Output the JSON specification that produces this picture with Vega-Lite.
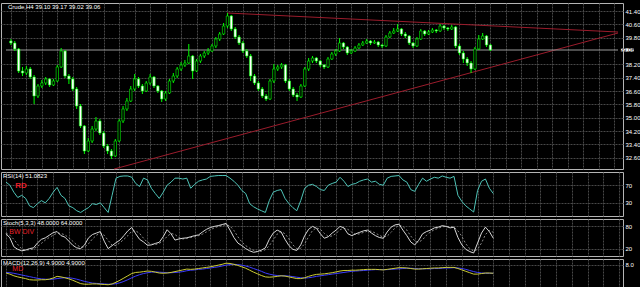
{
"$schema":"https://vega.github.io/schema/vega-lite/v6.json",
"background":"#000000",
"padding":{"top":2,"left":0,"right":0,"bottom":0},
"bounds":"flush",
"spacing":3,
"datasets":{"c":[
{"i":0,"o":39.60,"h":39.72,"l":39.36,"c":39.48,"r":77,"k":60,"d":62,"m":5.0,"s":5.2},
{"i":1,"o":39.48,"h":39.60,"l":39.00,"c":39.12,"r":70,"k":49,"d":56,"m":4.6,"s":5.1},
{"i":2,"o":39.12,"h":39.18,"l":37.68,"c":37.80,"r":54,"k":25,"d":45,"m":4.0,"s":4.9},
{"i":3,"o":37.80,"h":38.04,"l":37.50,"c":37.68,"r":42,"k":18,"d":31,"m":3.6,"s":4.6},
{"i":4,"o":37.68,"h":38.10,"l":37.56,"c":37.92,"r":47,"k":14,"d":19,"m":3.3,"s":4.3},
{"i":5,"o":37.92,"h":38.04,"l":37.32,"c":37.44,"r":40,"k":16,"d":16,"m":3.0,"s":4.0},
{"i":6,"o":37.44,"h":37.56,"l":35.82,"c":36.30,"r":23,"k":20,"d":17,"m":2.6,"s":3.7},
{"i":7,"o":36.30,"h":37.02,"l":36.18,"c":36.90,"r":19,"k":22,"d":19,"m":2.5,"s":3.4},
{"i":8,"o":36.90,"h":37.26,"l":36.78,"c":37.08,"r":28,"k":35,"d":26,"m":2.5,"s":3.1},
{"i":9,"o":37.08,"h":37.44,"l":36.96,"c":37.32,"r":35,"k":45,"d":34,"m":2.6,"s":2.9},
{"i":10,"o":37.32,"h":37.38,"l":36.84,"c":36.96,"r":30,"k":49,"d":43,"m":2.6,"s":2.8},
{"i":11,"o":36.96,"h":37.32,"l":36.90,"c":37.20,"r":40,"k":56,"d":50,"m":2.8,"s":2.7},
{"i":12,"o":37.20,"h":38.16,"l":37.14,"c":38.04,"r":54,"k":63,"d":56,"m":3.2,"s":2.8},
{"i":13,"o":38.04,"h":39.18,"l":37.98,"c":39.00,"r":65,"k":66,"d":62,"m":3.8,"s":3.0},
{"i":14,"o":39.00,"h":39.06,"l":37.38,"c":37.50,"r":47,"k":55,"d":61,"m":3.6,"s":3.2},
{"i":15,"o":37.50,"h":37.62,"l":37.02,"c":37.32,"r":40,"k":51,"d":57,"m":3.3,"s":3.3},
{"i":16,"o":37.32,"h":37.44,"l":36.60,"c":36.72,"r":23,"k":40,"d":49,"m":2.9,"s":3.3},
{"i":17,"o":36.72,"h":36.84,"l":35.52,"c":35.70,"r":19,"k":29,"d":40,"m":2.4,"s":3.1},
{"i":18,"o":35.70,"h":35.82,"l":34.38,"c":34.50,"r":12,"k":22,"d":30,"m":1.8,"s":2.8},
{"i":19,"o":34.50,"h":34.56,"l":32.82,"c":33.00,"r":8,"k":20,"d":24,"m":1.2,"s":2.4},
{"i":20,"o":33.00,"h":33.78,"l":32.94,"c":33.60,"r":14,"k":30,"d":24,"m":1.0,"s":2.0},
{"i":21,"o":33.60,"h":34.50,"l":33.48,"c":34.32,"r":19,"k":49,"d":33,"m":1.0,"s":1.7},
{"i":22,"o":34.32,"h":35.04,"l":34.20,"c":34.80,"r":28,"k":58,"d":46,"m":1.1,"s":1.4},
{"i":23,"o":34.80,"h":34.92,"l":33.96,"c":34.08,"r":26,"k":62,"d":56,"m":1.1,"s":1.3},
{"i":24,"o":34.08,"h":34.20,"l":33.18,"c":33.30,"r":30,"k":66,"d":62,"m":1.0,"s":1.2},
{"i":25,"o":33.30,"h":33.42,"l":32.82,"c":33.00,"r":19,"k":40,"d":56,"m":0.9,"s":1.1},
{"i":26,"o":33.00,"h":33.12,"l":32.52,"c":32.70,"r":8,"k":20,"d":42,"m":0.8,"s":1.0},
{"i":27,"o":32.70,"h":33.72,"l":32.64,"c":33.60,"r":47,"k":28,"d":29,"m":1.1,"s":1.0},
{"i":28,"o":33.60,"h":34.92,"l":33.54,"c":34.80,"r":86,"k":36,"d":28,"m":1.7,"s":1.2},
{"i":29,"o":34.80,"h":35.70,"l":34.68,"c":35.52,"r":90,"k":43,"d":36,"m":2.4,"s":1.5},
{"i":30,"o":35.52,"h":36.18,"l":35.40,"c":36.00,"r":91,"k":55,"d":45,"m":3.2,"s":2.0},
{"i":31,"o":36.00,"h":36.90,"l":35.94,"c":36.72,"r":91,"k":68,"d":55,"m":4.0,"s":2.6},
{"i":32,"o":36.72,"h":37.62,"l":36.60,"c":37.32,"r":88,"k":77,"d":67,"m":4.8,"s":3.3},
{"i":33,"o":37.32,"h":37.44,"l":36.78,"c":36.90,"r":74,"k":60,"d":68,"m":5.2,"s":3.9},
{"i":34,"o":36.90,"h":37.02,"l":36.42,"c":36.60,"r":67,"k":45,"d":61,"m":5.3,"s":4.4},
{"i":35,"o":36.60,"h":37.20,"l":36.54,"c":37.08,"r":86,"k":38,"d":48,"m":5.5,"s":4.8},
{"i":36,"o":37.08,"h":37.62,"l":36.96,"c":37.44,"r":82,"k":29,"d":37,"m":5.7,"s":5.1},
{"i":37,"o":37.44,"h":37.50,"l":36.78,"c":36.90,"r":63,"k":30,"d":32,"m":5.6,"s":5.3},
{"i":38,"o":36.90,"h":36.96,"l":36.48,"c":36.60,"r":51,"k":34,"d":31,"m":5.3,"s":5.4},
{"i":39,"o":36.60,"h":36.66,"l":35.94,"c":36.12,"r":40,"k":37,"d":34,"m":5.0,"s":5.3},
{"i":40,"o":36.12,"h":36.60,"l":36.00,"c":36.48,"r":54,"k":52,"d":41,"m":4.9,"s":5.2},
{"i":41,"o":36.48,"h":37.32,"l":36.42,"c":37.20,"r":70,"k":71,"d":53,"m":5.0,"s":5.1},
{"i":42,"o":37.20,"h":37.68,"l":37.08,"c":37.50,"r":77,"k":60,"d":61,"m":5.2,"s":5.1},
{"i":43,"o":37.50,"h":38.04,"l":37.38,"c":37.92,"r":86,"k":43,"d":58,"m":5.5,"s":5.2},
{"i":44,"o":37.92,"h":38.34,"l":37.80,"c":38.16,"r":86,"k":46,"d":50,"m":5.8,"s":5.3},
{"i":45,"o":38.16,"h":38.46,"l":38.04,"c":38.28,"r":84,"k":48,"d":46,"m":6.1,"s":5.5},
{"i":46,"o":38.28,"h":39.42,"l":38.22,"c":38.70,"r":86,"k":49,"d":48,"m":6.4,"s":5.8},
{"i":47,"o":38.70,"h":38.76,"l":37.32,"c":37.80,"r":63,"k":52,"d":50,"m":6.3,"s":6.0},
{"i":48,"o":37.80,"h":38.52,"l":37.74,"c":38.40,"r":72,"k":55,"d":52,"m":6.4,"s":6.1},
{"i":49,"o":38.40,"h":38.82,"l":38.28,"c":38.70,"r":79,"k":57,"d":55,"m":6.6,"s":6.3},
{"i":50,"o":38.70,"h":39.00,"l":38.58,"c":38.88,"r":82,"k":65,"d":59,"m":6.8,"s":6.4},
{"i":51,"o":38.88,"h":39.18,"l":38.76,"c":39.00,"r":84,"k":72,"d":65,"m":7.0,"s":6.6},
{"i":52,"o":39.00,"h":39.42,"l":38.94,"c":39.30,"r":90,"k":77,"d":71,"m":7.2,"s":6.8},
{"i":53,"o":39.30,"h":39.84,"l":39.18,"c":39.72,"r":91,"k":80,"d":76,"m":7.5,"s":7.0},
{"i":54,"o":39.72,"h":40.14,"l":39.60,"c":40.02,"r":92,"k":82,"d":80,"m":7.8,"s":7.2},
{"i":55,"o":40.02,"h":40.68,"l":39.96,"c":40.50,"r":92,"k":85,"d":82,"m":8.1,"s":7.5},
{"i":56,"o":40.50,"h":41.28,"l":40.38,"c":41.10,"r":92,"k":88,"d":85,"m":8.5,"s":7.8},
{"i":57,"o":41.10,"h":41.16,"l":40.20,"c":40.32,"r":86,"k":70,"d":81,"m":8.4,"s":8.0},
{"i":58,"o":40.32,"h":40.44,"l":39.72,"c":39.84,"r":79,"k":50,"d":69,"m":8.1,"s":8.1},
{"i":59,"o":39.84,"h":39.96,"l":39.36,"c":39.48,"r":70,"k":35,"d":52,"m":7.7,"s":8.0},
{"i":60,"o":39.48,"h":39.60,"l":38.88,"c":39.00,"r":58,"k":28,"d":38,"m":7.2,"s":7.8},
{"i":61,"o":39.00,"h":39.12,"l":38.58,"c":38.70,"r":51,"k":20,"d":28,"m":6.7,"s":7.5},
{"i":62,"o":38.70,"h":38.82,"l":37.20,"c":37.50,"r":28,"k":14,"d":21,"m":6.0,"s":7.1},
{"i":63,"o":37.50,"h":37.62,"l":36.96,"c":37.08,"r":21,"k":10,"d":15,"m":5.3,"s":6.6},
{"i":64,"o":37.08,"h":37.20,"l":36.60,"c":36.72,"r":16,"k":12,"d":12,"m":4.7,"s":6.1},
{"i":65,"o":36.72,"h":36.84,"l":36.18,"c":36.30,"r":12,"k":16,"d":13,"m":4.1,"s":5.6},
{"i":66,"o":36.30,"h":36.42,"l":36.00,"c":36.12,"r":8,"k":22,"d":17,"m":3.6,"s":5.0},
{"i":67,"o":36.12,"h":37.32,"l":36.06,"c":37.20,"r":35,"k":45,"d":28,"m":3.5,"s":4.6},
{"i":68,"o":37.20,"h":38.22,"l":37.08,"c":37.92,"r":54,"k":62,"d":43,"m":3.6,"s":4.3},
{"i":69,"o":37.92,"h":38.16,"l":37.80,"c":38.04,"r":58,"k":70,"d":59,"m":3.8,"s":4.1},
{"i":70,"o":38.04,"h":38.28,"l":37.92,"c":38.16,"r":60,"k":65,"d":66,"m":4.0,"s":4.0},
{"i":71,"o":38.16,"h":38.22,"l":37.08,"c":37.20,"r":40,"k":45,"d":60,"m":3.9,"s":4.0},
{"i":72,"o":37.20,"h":37.32,"l":36.60,"c":36.72,"r":28,"k":28,"d":46,"m":3.6,"s":3.9},
{"i":73,"o":36.72,"h":36.84,"l":36.24,"c":36.36,"r":19,"k":18,"d":30,"m":3.3,"s":3.7},
{"i":74,"o":36.36,"h":36.48,"l":36.00,"c":36.24,"r":12,"k":15,"d":20,"m":3.0,"s":3.5},
{"i":75,"o":36.24,"h":37.02,"l":36.18,"c":36.90,"r":35,"k":30,"d":21,"m":3.0,"s":3.3},
{"i":76,"o":36.90,"h":38.04,"l":36.84,"c":37.92,"r":63,"k":55,"d":33,"m":3.3,"s":3.2},
{"i":77,"o":37.92,"h":38.58,"l":37.80,"c":38.40,"r":70,"k":72,"d":52,"m":3.8,"s":3.3},
{"i":78,"o":38.40,"h":38.70,"l":38.28,"c":38.58,"r":72,"k":80,"d":69,"m":4.2,"s":3.5},
{"i":79,"o":38.58,"h":38.64,"l":38.28,"c":38.40,"r":67,"k":75,"d":76,"m":4.5,"s":3.8},
{"i":80,"o":38.40,"h":38.46,"l":38.04,"c":38.16,"r":60,"k":60,"d":72,"m":4.6,"s":4.0},
{"i":81,"o":38.16,"h":38.22,"l":37.92,"c":38.04,"r":58,"k":48,"d":61,"m":4.7,"s":4.2},
{"i":82,"o":38.04,"h":38.64,"l":37.98,"c":38.52,"r":70,"k":52,"d":53,"m":4.9,"s":4.4},
{"i":83,"o":38.52,"h":38.94,"l":38.46,"c":38.82,"r":74,"k":62,"d":54,"m":5.1,"s":4.6},
{"i":84,"o":38.82,"h":39.12,"l":38.70,"c":39.00,"r":77,"k":70,"d":61,"m":5.4,"s":4.8},
{"i":85,"o":39.00,"h":39.78,"l":38.94,"c":39.48,"r":88,"k":80,"d":71,"m":5.7,"s":5.0},
{"i":86,"o":39.48,"h":39.54,"l":39.12,"c":39.24,"r":79,"k":76,"d":75,"m":5.9,"s":5.2},
{"i":87,"o":39.24,"h":39.30,"l":38.76,"c":38.88,"r":67,"k":60,"d":72,"m":5.9,"s":5.4},
{"i":88,"o":38.88,"h":39.12,"l":38.82,"c":39.00,"r":72,"k":55,"d":64,"m":6.0,"s":5.6},
{"i":89,"o":39.00,"h":39.30,"l":38.94,"c":39.18,"r":74,"k":60,"d":58,"m":6.0,"s":5.7},
{"i":90,"o":39.18,"h":39.48,"l":39.12,"c":39.36,"r":79,"k":64,"d":60,"m":6.1,"s":5.8},
{"i":91,"o":39.36,"h":39.60,"l":39.30,"c":39.48,"r":82,"k":68,"d":64,"m":6.2,"s":5.9},
{"i":92,"o":39.48,"h":39.72,"l":39.42,"c":39.60,"r":84,"k":70,"d":67,"m":6.3,"s":6.0},
{"i":93,"o":39.60,"h":39.66,"l":39.36,"c":39.48,"r":77,"k":62,"d":67,"m":6.3,"s":6.1},
{"i":94,"o":39.48,"h":39.66,"l":39.42,"c":39.54,"r":79,"k":55,"d":62,"m":6.3,"s":6.2},
{"i":95,"o":39.54,"h":39.60,"l":39.24,"c":39.36,"r":72,"k":50,"d":56,"m":6.2,"s":6.2},
{"i":96,"o":39.36,"h":39.42,"l":39.18,"c":39.30,"r":70,"k":48,"d":51,"m":6.1,"s":6.2},
{"i":97,"o":39.30,"h":39.96,"l":39.24,"c":39.84,"r":86,"k":65,"d":54,"m":6.3,"s":6.2},
{"i":98,"o":39.84,"h":40.20,"l":39.78,"c":40.08,"r":90,"k":78,"d":64,"m":6.5,"s":6.3},
{"i":99,"o":40.08,"h":40.38,"l":40.02,"c":40.20,"r":91,"k":84,"d":76,"m":6.7,"s":6.4},
{"i":100,"o":40.20,"h":40.62,"l":40.14,"c":40.32,"r":92,"k":86,"d":83,"m":6.9,"s":6.5},
{"i":101,"o":40.32,"h":40.38,"l":39.90,"c":40.02,"r":82,"k":70,"d":80,"m":6.9,"s":6.6},
{"i":102,"o":40.02,"h":40.14,"l":39.78,"c":39.90,"r":77,"k":55,"d":70,"m":6.8,"s":6.7},
{"i":103,"o":39.90,"h":39.96,"l":39.36,"c":39.48,"r":60,"k":38,"d":54,"m":6.6,"s":6.7},
{"i":104,"o":39.48,"h":39.54,"l":39.18,"c":39.30,"r":56,"k":30,"d":41,"m":6.4,"s":6.6},
{"i":105,"o":39.30,"h":39.84,"l":39.24,"c":39.72,"r":72,"k":42,"d":37,"m":6.4,"s":6.5},
{"i":106,"o":39.72,"h":40.32,"l":39.66,"c":40.20,"r":86,"k":60,"d":44,"m":6.5,"s":6.5},
{"i":107,"o":40.20,"h":40.26,"l":39.90,"c":40.02,"r":79,"k":66,"d":56,"m":6.6,"s":6.5},
{"i":108,"o":40.02,"h":40.26,"l":39.96,"c":40.14,"r":84,"k":70,"d":65,"m":6.7,"s":6.5},
{"i":109,"o":40.14,"h":40.38,"l":40.08,"c":40.26,"r":88,"k":76,"d":71,"m":6.8,"s":6.6},
{"i":110,"o":40.26,"h":40.32,"l":40.08,"c":40.20,"r":86,"k":78,"d":75,"m":6.8,"s":6.6},
{"i":111,"o":40.20,"h":40.62,"l":40.14,"c":40.50,"r":91,"k":82,"d":79,"m":6.9,"s":6.7},
{"i":112,"o":40.50,"h":40.56,"l":40.26,"c":40.38,"r":88,"k":80,"d":80,"m":7.0,"s":6.8},
{"i":113,"o":40.38,"h":40.44,"l":40.20,"c":40.32,"r":86,"k":76,"d":79,"m":7.0,"s":6.8},
{"i":114,"o":40.32,"h":40.56,"l":40.26,"c":40.44,"r":90,"k":78,"d":78,"m":7.0,"s":6.9},
{"i":115,"o":40.44,"h":40.50,"l":39.18,"c":39.30,"r":47,"k":50,"d":68,"m":6.6,"s":6.8},
{"i":116,"o":39.30,"h":39.42,"l":38.76,"c":38.88,"r":33,"k":30,"d":53,"m":6.1,"s":6.6},
{"i":117,"o":38.88,"h":39.00,"l":38.28,"c":38.52,"r":23,"k":18,"d":33,"m":5.6,"s":6.3},
{"i":118,"o":38.52,"h":38.64,"l":38.10,"c":38.28,"r":16,"k":12,"d":20,"m":5.1,"s":5.9},
{"i":119,"o":38.28,"h":38.40,"l":37.68,"c":37.92,"r":9,"k":8,"d":13,"m":4.6,"s":5.5},
{"i":120,"o":37.92,"h":39.24,"l":37.86,"c":39.12,"r":58,"k":35,"d":18,"m":4.6,"s":5.2},
{"i":121,"o":39.12,"h":39.96,"l":39.06,"c":39.72,"r":79,"k":62,"d":35,"m":4.8,"s":5.0},
{"i":122,"o":39.72,"h":40.08,"l":39.66,"c":39.90,"r":84,"k":78,"d":58,"m":5.0,"s":4.9},
{"i":123,"o":39.90,"h":39.96,"l":39.24,"c":39.36,"r":63,"k":66,"d":69,"m":5.0,"s":4.9},
{"i":124,"o":39.36,"h":39.42,"l":39.00,"c":39.06,"r":51,"k":48,"d":64,"m":4.9,"s":4.9}
]},
"vconcat":[
{
"width":622,"height":166,
"layer":[
{"data":{"values":[{"t":"up","i":56,"p":41.28},{"t":"up","i":157,"p":40.14},{"t":"lo","i":26.7,"p":31.92},{"t":"lo","i":157,"p":40.08},{"t":"h","i":-1.27,"p":39.06},{"t":"h","i":157,"p":39.06}]},
 "mark":{"type":"line","strokeWidth":1},
 "encoding":{"x":{"field":"i","type":"quantitative","title":null,"scale":{"domain":[-1.27,157],"nice":false,"zero":false},"axis":{"tickCount":100,"values":[0,4,8,12,16,20,24,28,32,36,40,44,48,52,56,60,64,68,72,76,80,84,88,92,96,100,104,108,112,116,120,124,128,132,136,140,144,148,152,156]}},
  "y":{"field":"p","type":"quantitative","title":null,"scale":{"domain":[31.92,41.88],"nice":false,"zero":false},"axis":{"orient":"right","tickCount":100,"values":[41.4,40.6,39.8,38.2,37.4,36.6,35.8,35.0,34.2,33.4,32.6],"format":".2f","labelOverlap":false,"labelBound":false,"labelFlush":false}},
  "detail":{"field":"t"},
  "color":{"field":"t","type":"nominal","legend":null,"scale":{"domain":["up","lo","h"],"range":["#9b1c2c","#9b1c2c","#9a9a9a"]}}}},
{"data":{"name":"c"},"mark":{"type":"rule","color":"#00ff00","strokeWidth":1},
 "encoding":{"x":{"field":"i","type":"quantitative","title":null},
  "y":{"field":"l","type":"quantitative","title":null},"y2":{"field":"h"}}},
{"data":{"name":"c"},"mark":{"type":"bar","width":2.4,"stroke":"#00ff00","strokeWidth":0.6},
 "encoding":{"x":{"field":"i","type":"quantitative","title":null},
  "y":{"field":"o","type":"quantitative","title":null},"y2":{"field":"c"},
  "fill":{"condition":{"test":"datum.c < datum.o","value":"#ffffff"},"value":"#000000"}}},
{"data":{"values":[{"t":"Crude,H4  39.10 39.17 39.02 39.06","x":-1.27,"y":41.88}]},
 "mark":{"type":"text","align":"left","baseline":"top","dx":2,"dy":1,"fontSize":6,"color":"#ffffff","font":"Liberation Sans"},
 "encoding":{"x":{"field":"x","type":"quantitative"},"y":{"field":"y","type":"quantitative"},"text":{"field":"t"}}},
{"data":{"values":[{"x":157.75,"x2":161.1,"y":38.96,"y2":39.16}]},
 "mark":{"type":"rect","fill":"#ffffff","clip":false},
 "encoding":{"x":{"field":"x","type":"quantitative"},"x2":{"field":"x2"},"y":{"field":"y","type":"quantitative"},"y2":{"field":"y2"}}},
{"data":{"values":[{"t":"39.06","x":159.4,"y":39.06}]},
 "mark":{"type":"text","align":"center","baseline":"middle","fontSize":6,"color":"#000000","font":"Liberation Sans","clip":false},
 "encoding":{"x":{"field":"x","type":"quantitative"},"y":{"field":"y","type":"quantitative"},"text":{"field":"t"}}}
]},
{
"width":622,"height":44,
"layer":[
{"data":{"name":"c"},"mark":{"type":"line","color":"#4fc4b8","strokeWidth":1},
 "encoding":{"x":{"field":"i","type":"quantitative","title":null,"scale":{"domain":[-1.27,157],"nice":false,"zero":false},"axis":{"tickCount":100,"values":[0,4,8,12,16,20,24,28,32,36,40,44,48,52,56,60,64,68,72,76,80,84,88,92,96,100,104,108,112,116,120,124,128,132,136,140,144,148,152,156]}},
  "y":{"field":"r","type":"quantitative","title":null,"scale":{"domain":[0,100],"nice":false},"axis":{"orient":"right","tickCount":10,"values":[70,30]}}}},
{"data":{"values":[{"t":"RSI(14) 51.0823","x":-1.27,"y":100}]},
 "mark":{"type":"text","align":"left","baseline":"top","dx":2,"dy":1,"fontSize":6,"color":"#ffffff","font":"Liberation Sans"},
 "encoding":{"x":{"field":"x","type":"quantitative"},"y":{"field":"y","type":"quantitative"},"text":{"field":"t"}}},
{"data":{"values":[{"t":"RD","x":3.8,"y":68}]},
 "mark":{"type":"text","align":"center","baseline":"middle","fontSize":8,"fontWeight":"bold","color":"#e8202a","font":"Liberation Sans"},
 "encoding":{"x":{"field":"x","type":"quantitative"},"y":{"field":"y","type":"quantitative"},"text":{"field":"t"}}}
]},
{
"width":622,"height":37,
"layer":[
{"data":{"name":"c"},"mark":{"type":"line","color":"#8a8a8a","strokeWidth":1,"strokeDash":[2,2]},
 "encoding":{"x":{"field":"i","type":"quantitative","title":null,"scale":{"domain":[-1.27,157],"nice":false,"zero":false},"axis":{"tickCount":100,"values":[0,4,8,12,16,20,24,28,32,36,40,44,48,52,56,60,64,68,72,76,80,84,88,92,96,100,104,108,112,116,120,124,128,132,136,140,144,148,152,156]}},
  "y":{"field":"d","type":"quantitative","title":null,"scale":{"domain":[0,100],"nice":false},"axis":{"orient":"right","tickCount":10,"values":[80,20]}}}},
{"data":{"name":"c"},"mark":{"type":"line","color":"#d8d8d8","strokeWidth":1},
 "encoding":{"x":{"field":"i","type":"quantitative","title":null},"y":{"field":"k","type":"quantitative","title":null}}},
{"data":{"values":[{"t":"Stoch(5,3,3) 48.0000 64.0000","x":-1.27,"y":100}]},
 "mark":{"type":"text","align":"left","baseline":"top","dx":2,"dy":1,"fontSize":6,"color":"#ffffff","font":"Liberation Sans"},
 "encoding":{"x":{"field":"x","type":"quantitative"},"y":{"field":"y","type":"quantitative"},"text":{"field":"t"}}},
{"data":{"values":[{"t":"BW DIV","x":4,"y":66}]},
 "mark":{"type":"text","align":"center","baseline":"middle","fontSize":7,"color":"#e8202a","font":"Liberation Sans"},
 "encoding":{"x":{"field":"x","type":"quantitative"},"y":{"field":"y","type":"quantitative"},"text":{"field":"t"}}}
]},
{
"width":622,"height":28,
"layer":[
{"data":{"name":"c"},"mark":{"type":"line","color":"#3c3cff","strokeWidth":1},
 "encoding":{"x":{"field":"i","type":"quantitative","title":null,"scale":{"domain":[-1.27,157],"nice":false,"zero":false},"axis":{"tickCount":100,"values":[0,4,8,12,16,20,24,28,32,36,40,44,48,52,56,60,64,68,72,76,80,84,88,92,96,100,104,108,112,116,120,124,128,132,136,140,144,148,152,156]}},
  "y":{"field":"s","type":"quantitative","title":null,"scale":{"domain":[0,10],"nice":false},"axis":{"orient":"right","tickCount":10,"values":[8],"format":".1f"}}}},
{"data":{"name":"c"},"mark":{"type":"line","color":"#cccc33","strokeWidth":1},
 "encoding":{"x":{"field":"i","type":"quantitative","title":null},"y":{"field":"m","type":"quantitative","title":null}}},
{"data":{"values":[{"t":"MACD(12,26,9) 4.9000 4.9000","x":-1.27,"y":10}]},
 "mark":{"type":"text","align":"left","baseline":"top","dx":2,"dy":1,"fontSize":6,"color":"#ffffff","font":"Liberation Sans"},
 "encoding":{"x":{"field":"x","type":"quantitative"},"y":{"field":"y","type":"quantitative"},"text":{"field":"t"}}},
{"data":{"values":[{"t":"MD","x":3,"y":6.4}]},
 "mark":{"type":"text","align":"center","baseline":"middle","fontSize":7,"color":"#e8202a","font":"Liberation Sans"},
 "encoding":{"x":{"field":"x","type":"quantitative"},"y":{"field":"y","type":"quantitative"},"text":{"field":"t"}}}
]}
],
"config":{
 "background":"#000000",
 "view":{"stroke":"#b4b4b4","strokeWidth":1},
 "axis":{"domain":false,"ticks":false,"labelColor":"#ffffff","labelFont":"Liberation Sans","labelFontSize":6,"labelPadding":2,"labelOverlap":false,"gridColor":"#484848","gridDash":[2,1],"gridWidth":1},
 "axisX":{"labels":false,"grid":true,"minExtent":0,"maxExtent":0}
}
}
